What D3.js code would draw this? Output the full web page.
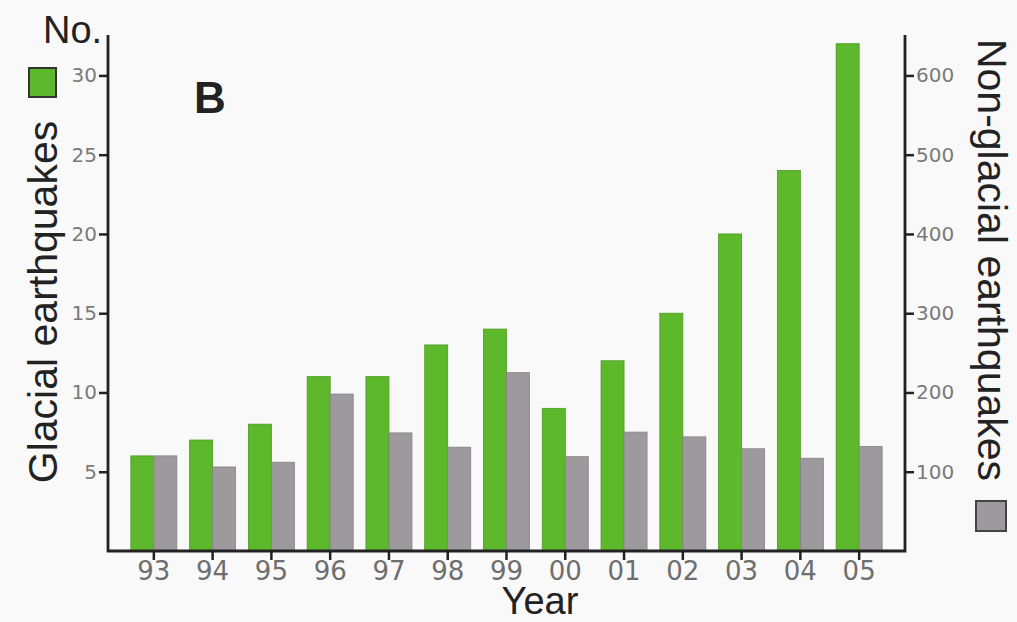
<!DOCTYPE html>
<html>
<head>
<meta charset="utf-8">
<script src="https://cdn.jsdelivr.net/npm/d3@7"></script>
<style>
  html, body { margin: 0; padding: 0; background: #f9f9f9; }
  svg { display: block; }
</style>
</head>
<body>
<svg id="chart" width="1017" height="622"></svg>
<script>
// Yearly counts of earthquakes, 1993–2005
const years = ["93", "94", "95", "96", "97", "98", "99", "00", "01", "02", "03", "04", "05"];
const glacial = [6, 7, 8, 11, 11, 13, 14, 9, 12, 15, 20, 24, 32];
const nonGlacial = [120, 106, 112, 198, 149, 131, 225, 119, 150, 144, 129, 117, 132];
const leftTicks = [5, 10, 15, 20, 25, 30];
const rightTicks = [100, 200, 300, 400, 500, 600];

const svg = d3.select("#chart");
const plot = { left: 108, right: 905, top: 35, bottom: 551 };

const x = d3.scaleBand()
  .domain(years)
  .range([plot.left, plot.right])
  .paddingInner(0.2)
  .paddingOuter(0.38);

const half = x.bandwidth() / 2;
const yL = d3.scaleLinear().domain([0, 32.55]).range([plot.bottom, plot.top]);
const yR = d3.scaleLinear().domain([0, 651]).range([plot.bottom, plot.top]);

const green = "#5db82c", greenEdge = "#4c9a22";
const grey = "#9d9a9e", greyEdge = "#858285";

// Bars: green pair member on the left of each year, grey on the right
svg.append("g").selectAll("rect").data(years).join("rect")
  .attr("x", d => x(d) + 0.5)
  .attr("y", (d, i) => yL(glacial[i]))
  .attr("width", half - 0.5)
  .attr("height", (d, i) => plot.bottom - yL(glacial[i]))
  .attr("fill", green).attr("stroke", greenEdge).attr("stroke-width", 0.8);

svg.append("g").selectAll("rect").data(years).join("rect")
  .attr("x", d => x(d) + half)
  .attr("y", (d, i) => yR(nonGlacial[i]))
  .attr("width", half - 0.5)
  .attr("height", (d, i) => plot.bottom - yR(nonGlacial[i]))
  .attr("fill", grey).attr("stroke", greyEdge).attr("stroke-width", 0.8);

// Axes
const axisColor = "#222";
function styleAxis(g, size, fill) {
  g.select(".domain").remove();
  g.selectAll(".tick line").attr("stroke", axisColor).attr("stroke-width", 2.5);
  g.selectAll(".tick text")
    .attr("fill", fill)
    .style("font-family", "'DejaVu Sans', sans-serif")
    .style("font-size", size + "px");
}

const gL = svg.append("g").attr("transform", `translate(${plot.left},0)`)
  .call(d3.axisLeft(yL).tickValues(leftTicks).tickSize(9).tickPadding(2));
styleAxis(gL, 20, "#7a7a7a");

const gR = svg.append("g").attr("transform", `translate(${plot.right},0)`)
  .call(d3.axisRight(yR).tickValues(rightTicks).tickSize(9).tickPadding(2));
styleAxis(gR, 20, "#7a7a7a");

const gX = svg.append("g").attr("transform", `translate(0,${plot.bottom})`)
  .call(d3.axisBottom(x).tickSize(9).tickPadding(2));
gX.selectAll(".tick").attr("transform", d => `translate(${x(d) + half},0)`);
styleAxis(gX, 26, "#6e6e6e");

// Frame: left, bottom and right axis lines
svg.append("path")
  .attr("d", `M${plot.left},${plot.top}V${plot.bottom}H${plot.right}V${plot.top}`)
  .attr("fill", "none").attr("stroke", axisColor).attr("stroke-width", 2.8);

// Titles
const titleFont = "'Liberation Sans', Arial, sans-serif";
svg.append("text").attr("x", 43).attr("y", 43)
  .style("font-family", titleFont).style("font-size", "38px").attr("fill", "#222")
  .text("No.");

svg.append("text").attr("x", 194).attr("y", 113)
  .style("font-family", titleFont).style("font-size", "44px").style("font-weight", "bold")
  .attr("fill", "#222").text("B");

svg.append("text")
  .attr("transform", "translate(57,302) rotate(-90)")
  .attr("text-anchor", "middle")
  .style("font-family", titleFont).style("font-size", "41px").attr("fill", "#222")
  .text("Glacial earthquakes");

svg.append("text")
  .attr("transform", "translate(978,260) rotate(90)")
  .attr("text-anchor", "middle")
  .style("font-family", titleFont).style("font-size", "41px").attr("fill", "#222")
  .text("Non-glacial earthquakes");

svg.append("text").attr("x", 540).attr("y", 614)
  .attr("text-anchor", "middle")
  .style("font-family", titleFont).style("font-size", "38px").attr("fill", "#222")
  .text("Year");

// Legend swatches
svg.append("rect").attr("x", 29).attr("y", 68).attr("width", 27).attr("height", 29)
  .attr("fill", green).attr("stroke", "#333").attr("stroke-width", 2);
svg.append("rect").attr("x", 976).attr("y", 501).attr("width", 30).attr("height", 30)
  .attr("fill", grey).attr("stroke", "#444").attr("stroke-width", 2);
</script>
</body>
</html>
